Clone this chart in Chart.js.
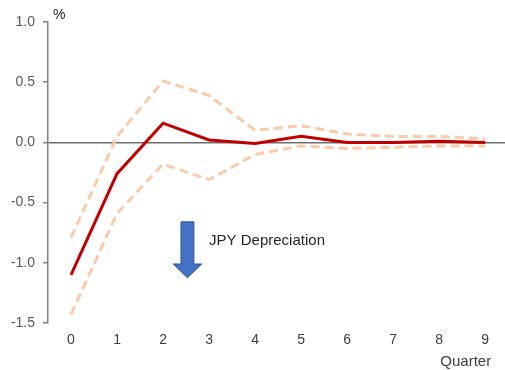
<!DOCTYPE html>
<html>
<head>
<meta charset="utf-8">
<script src="https://cdn.jsdelivr.net/npm/chart.js@4/dist/chart.umd.min.js"></script>
<style>
  html, body { margin: 0; padding: 0; background: #fff; }
  #wrap { width: 505px; height: 370px; }
</style>
</head>
<body>
<div id="wrap"><canvas id="chart"></canvas></div>
<script>
let quarters = [0, 1, 2, 3, 4, 5, 6, 7, 8, 9];
let response = [-1.10, -0.26, 0.16, 0.02, -0.01, 0.05, 0.00, 0.00, 0.01, 0.00];
let upperBand = [-0.79, 0.05, 0.51, 0.39, 0.10, 0.14, 0.07, 0.05, 0.05, 0.03];
let lowerBand = [-1.43, -0.59, -0.18, -0.31, -0.10, -0.03, -0.05, -0.04, -0.03, -0.03];
let yTicks = [-1.5, -1.0, -0.5, 0.0, 0.5, 1.0];

// arrow annotation, in data units (x = quarter, y = %)
let arrowX = 2.53;
let arrowTop = -0.66;
let arrowNeck = -1.01;
let arrowTip = -1.125;

const FONT = "'Liberation Sans', Arial, sans-serif";

function toPoints(values) {
    return quarters.map((q, i) => ({ x: q, y: values[i] }));
}

const extras = {
    id: 'extras',
    afterDraw(chart) {
        const ctx = chart.ctx;
        const xs = chart.scales.x;
        const ys = chart.scales.y;
        const unit = xs.getPixelForValue(1) - xs.getPixelForValue(0);

        ctx.save();
        // arrow
        const cx = xs.getPixelForValue(arrowX);
        const top = ys.getPixelForValue(arrowTop);
        const neck = ys.getPixelForValue(arrowNeck);
        const tip = ys.getPixelForValue(arrowTip);
        const sw = unit * 0.14;
        const hw = unit * 0.31;
        ctx.beginPath();
        ctx.moveTo(cx - sw, top);
        ctx.lineTo(cx + sw, top);
        ctx.lineTo(cx + sw, neck);
        ctx.lineTo(cx + hw, neck);
        ctx.lineTo(cx, tip);
        ctx.lineTo(cx - hw, neck);
        ctx.lineTo(cx - sw, neck);
        ctx.closePath();
        ctx.fillStyle = '#4472C4';
        ctx.fill();
        ctx.strokeStyle = '#2F528F';
        ctx.lineWidth = 1;
        ctx.stroke();

        ctx.fillStyle = '#262626';
        ctx.font = '15px ' + FONT;
        ctx.textBaseline = 'middle';
        ctx.textAlign = 'left';
        ctx.fillText('JPY Depreciation', cx + unit * 0.47, ys.getPixelForValue(-0.82));

        ctx.font = '14px ' + FONT;
        ctx.fillText('%', chart.chartArea.left + 5, 15);

        ctx.textAlign = 'right';
        ctx.font = '15px ' + FONT;
        ctx.fillStyle = '#404040';
        ctx.fillText('Quarter', xs.getPixelForValue(9) + 6, 362);
        ctx.restore();
    }
};

new Chart(document.getElementById('chart'), {
    type: 'line',
    data: {
        datasets: [
            {
                label: 'Upper',
                data: toPoints(upperBand),
                borderColor: '#F8CBAD',
                borderWidth: 3,
                borderDash: [9, 5],
                pointRadius: 0,
                tension: 0,
                fill: false
            },
            {
                label: 'Lower',
                data: toPoints(lowerBand),
                borderColor: '#F8CBAD',
                borderWidth: 3,
                borderDash: [9, 5],
                pointRadius: 0,
                tension: 0,
                fill: false
            },
            {
                label: 'Response',
                data: toPoints(response),
                borderColor: '#C00000',
                borderWidth: 3,
                pointRadius: 0,
                tension: 0,
                fill: false
            }
        ]
    },
    options: {
        responsive: true,
        maintainAspectRatio: false,
        animation: false,
        layout: { padding: { top: 22, right: 0, left: 0, bottom: 0 } },
        plugins: {
            legend: { display: false },
            tooltip: { enabled: false }
        },
        scales: {
            x: {
                type: 'linear',
                min: -0.5,
                max: 9.43,
                afterBuildTicks(axis) {
                    axis.ticks = quarters.map(q => ({ value: q }));
                },
                afterFit(axis) { axis.height = 47; },
                border: { display: false },
                grid: { display: false, drawTicks: false },
                ticks: {
                    color: '#404040',
                    font: { family: FONT, size: 14 },
                    padding: 9,
                    maxRotation: 0
                }
            },
            y: {
                min: -1.5,
                max: 1.0,
                afterBuildTicks(axis) {
                    axis.ticks = yTicks.map(v => ({ value: v }));
                },
                afterFit(axis) { axis.width = 48; },
                border: { display: true, color: '#808080', width: 1.5 },
                grid: {
                    drawTicks: true,
                    tickLength: 5,
                    tickColor: '#808080',
                    color: ctx => (ctx.tick && ctx.tick.value === 0) ? '#6e6e6e' : 'rgba(0,0,0,0)',
                    lineWidth: 1.5
                },
                ticks: {
                    color: '#595959',
                    font: { family: FONT, size: 14 },
                    padding: 8,
                    callback: v => v.toFixed(1)
                }
            }
        }
    },
    plugins: [extras]
});
</script>
</body>
</html>
